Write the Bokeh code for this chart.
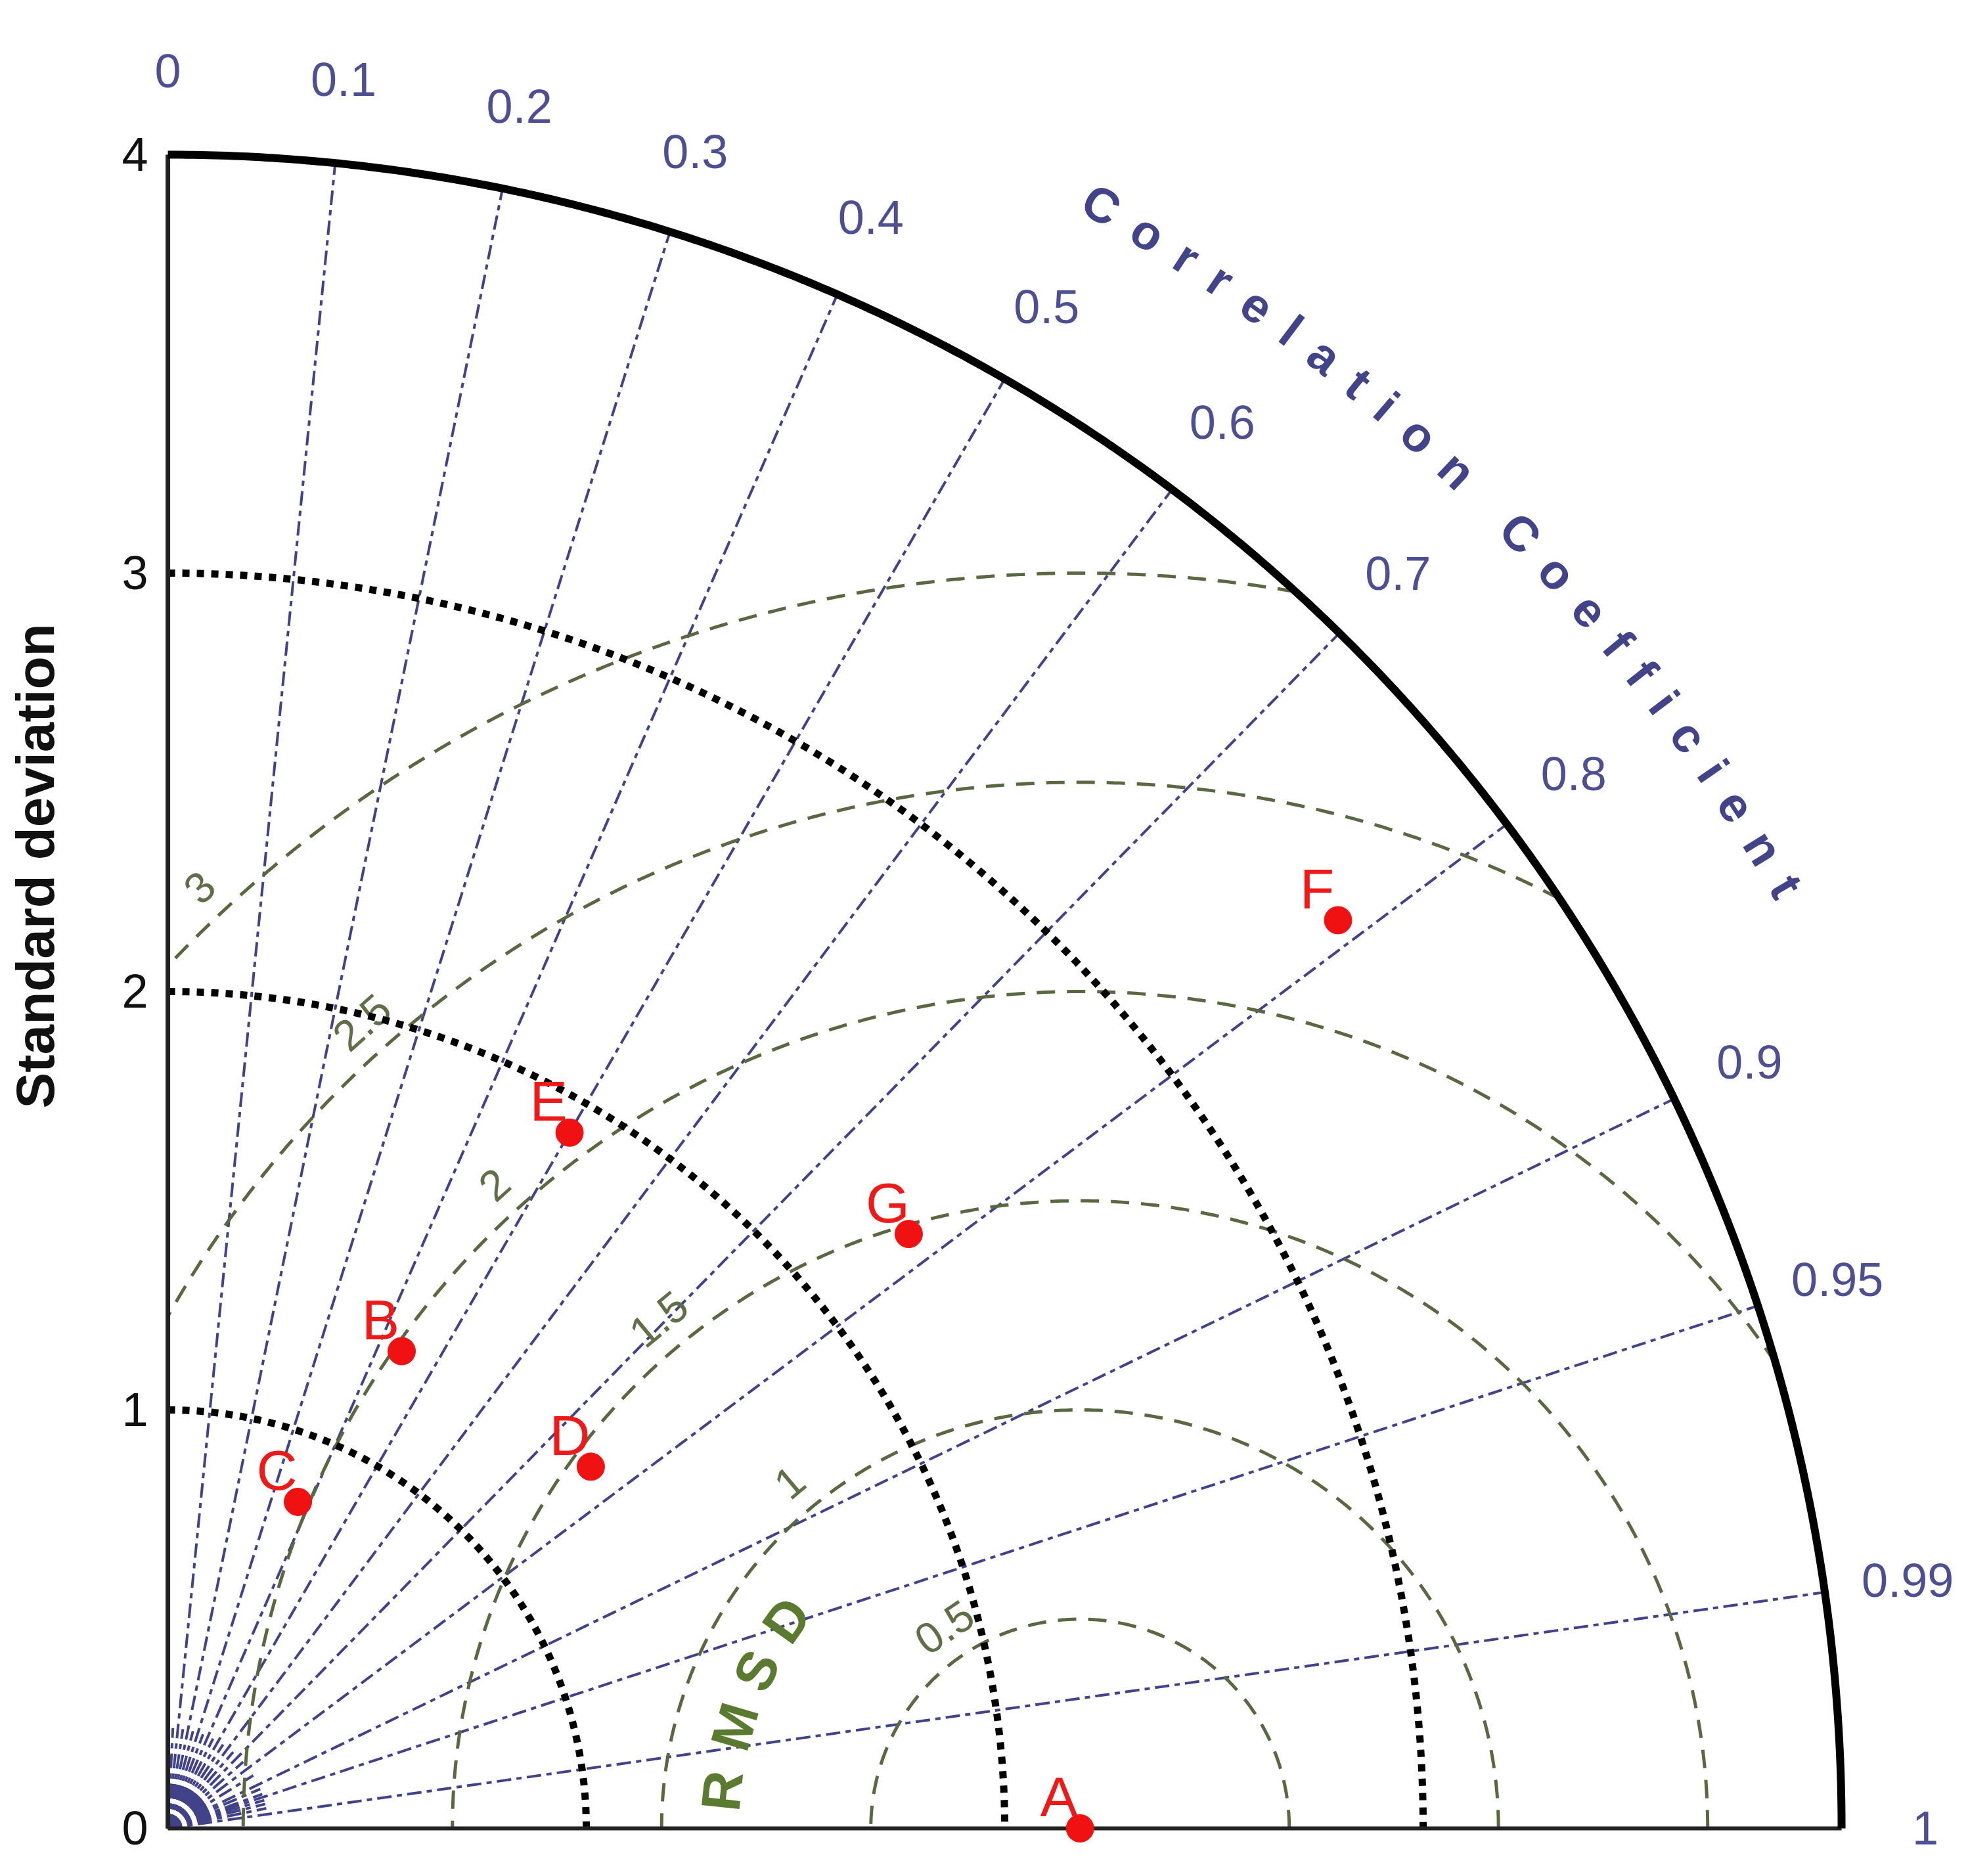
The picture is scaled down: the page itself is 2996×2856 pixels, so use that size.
import numpy as np
from bokeh.plotting import figure
from bokeh.models import ColumnDataSource, Range1d
from bokeh.core.properties import value
from bokeh.embed import file_html
from bokeh.resources import INLINE

# ---------------- data ----------------
models = ["A", "B", "C", "D", "E", "F", "G"]
std_devs = [2.18, 1.27, 0.84, 1.33, 1.92, 3.54, 2.27]
correlations = [1.00, 0.44, 0.37, 0.76, 0.50, 0.79, 0.78]
ref_std = 2.18

std_ticks = [0, 1, 2, 3, 4]
std_tick_labels = ["0", "1", "2", "3", "4"]
std_grid = [1, 2, 3]
std_max = 4

corr_lines = [0.1, 0.2, 0.3, 0.4, 0.5, 0.6, 0.7, 0.8, 0.9, 0.95, 0.99]
corr_ticks = [0.0, 0.1, 0.2, 0.3, 0.4, 0.5, 0.6, 0.7, 0.8, 0.9, 0.95, 0.99, 1.0]
corr_tick_labels = ["0", "0.1", "0.2", "0.3", "0.4", "0.5", "0.6", "0.7",
                    "0.8", "0.9", "0.95", "0.99", "1"]
corr_minor = [0.05, 0.15, 0.25, 0.35, 0.45, 0.55, 0.65, 0.75, 0.85,
              0.92, 0.94, 0.96, 0.97, 0.98]
corr_fine = [0.02, 0.04, 0.06, 0.08, 0.12, 0.14, 0.16, 0.18, 0.22, 0.24,
             0.26, 0.28, 0.32, 0.34, 0.36, 0.38, 0.42, 0.44, 0.46, 0.48,
             0.52, 0.54, 0.56, 0.58, 0.62, 0.64, 0.66, 0.68, 0.72, 0.74,
             0.76, 0.78, 0.82, 0.84, 0.86, 0.88]

rmsd_levels = [0.5, 1.0, 1.5, 2.0, 2.5, 3.0]
rmsd_labels = ["0.5", "1", "1.5", "2", "2.5", "3"]
rmsd_label_angles = [124, 130, 129.6, 132.3, 131.7, 133.1]   # degrees around ref point

corr_title = "Correlation Coefficient"
rmsd_title = "RMSD"
y_title = "Standard deviation"

# ---------------- styles ----------------
NAVY = "#42428a"
NAVY_TXT = "#4e4e92"
OLIVE = "#5a6842"
OLIVE_TXT = "#5f7048"
RMSD_GREEN = "#5a7a30"
RED = "#f01212"
FONT = "Liberation Sans"

p = figure(width=2980, height=2840,
           x_range=Range1d(-0.4004, 4.2778), y_range=Range1d(-0.0895, 4.3689),
           output_backend="svg", toolbar_location=None,
           x_axis_location=None, y_axis_location=None,
           min_border=0, outline_line_color=None)
p.grid.visible = False
p.background_fill_color = "white"

CDASH = "22 8 8 8"

# ---- correlation fan near origin (minor) ----
xs, ys = [], []
for c in corr_minor:
    t = np.arccos(c)
    xs.append([0, 0.24 * np.cos(t)]); ys.append([0, 0.24 * np.sin(t)])
for c in corr_fine:
    t = np.arccos(c)
    xs.append([0, 0.11 * np.cos(t)]); ys.append([0, 0.11 * np.sin(t)])
p.multi_line(xs, ys, line_color=NAVY, line_width=4, line_dash=CDASH)

# ---- correlation lines ----
xs, ys = [], []
for c in corr_lines:
    t = np.arccos(c)
    xs.append([0, std_max * np.cos(t)]); ys.append([0, std_max * np.sin(t)])
p.multi_line(xs, ys, line_color=NAVY, line_width=4, line_dash=CDASH)

# ---- RMSD arcs ----
xs, ys = [], []
for v in rmsd_levels:
    xo = (std_max**2 - v**2 + ref_std**2) / (2 * ref_std)
    phi0 = 0.0 if xo >= ref_std + v else np.arccos((xo - ref_std) / v)
    phi1 = np.pi if ref_std - v >= 0 else np.arccos(-ref_std / v)
    ph = np.linspace(phi0, phi1, 400)
    xs.append(list(ref_std + v * np.cos(ph))); ys.append(list(v * np.sin(ph)))
p.multi_line(xs, ys, line_color=OLIVE, line_width=5, line_dash="28 18")

# ---- RMSD labels ----
lx, ly, la = [], [], []
for v, a in zip(rmsd_levels, rmsd_label_angles):
    r = v + 0.08
    t = np.radians(a)
    lx.append(ref_std + r * np.cos(t)); ly.append(r * np.sin(t)); la.append(t - np.pi / 2)
p.text(lx, ly, text=rmsd_labels, angle=la, text_align="center", text_baseline="middle",
       text_font=value(FONT), text_font_size="66px", text_color=OLIVE_TXT)

# RMSD title along an arc around the reference point
rt = np.radians(np.array([174.0, 163.6, 154.0, 144.6]))
p.text(list(ref_std + 0.86 * np.cos(rt)), list(0.86 * np.sin(rt)), text=list(rmsd_title),
       angle=list(rt - np.pi / 2), text_align="center", text_baseline="middle",
       text_font=value(FONT), text_font_style="bold", text_font_size="84px",
       text_color=RMSD_GREEN)

# ---- std dotted arcs ----
xs, ys = [], []
th = np.linspace(np.pi / 2, 0, 400)
for r in std_grid:
    xs.append(list(r * np.cos(th))); ys.append(list(r * np.sin(th)))
p.multi_line(xs, ys, line_color="black", line_width=11, line_dash="11 11")

# ---- axes ----
p.line([0, 0], [0, std_max], line_color="#222222", line_width=7)
p.line([0, std_max], [0, 0], line_color="#222222", line_width=6)
p.line(list(std_max * np.cos(th)), list(std_max * np.sin(th)), line_color="black", line_width=12)

p.text([0] * len(std_ticks), std_ticks, text=std_tick_labels, x_offset=-30,
       text_align="right", text_baseline="middle", text_font=value(FONT),
       text_font_size="72px", text_color="#111111")
p.text([-0.317], [2.30], text=[y_title], angle=np.pi / 2, text_align="center",
       text_baseline="middle", text_font=value(FONT), text_font_style="bold",
       text_font_size="82px", text_color="#111111")

# ---- correlation tick labels ----
ct = np.arccos(np.array(corr_ticks))
p.text(list(4.2 * np.cos(ct)), list(4.2 * np.sin(ct)), text=corr_tick_labels,
       text_align="center", text_baseline="middle", text_font=value(FONT),
       text_font_size="72px", text_color=NAVY_TXT)

# ---- curved title "Correlation Coefficient" ----
adv = {"C": .722, "o": .611, "r": .389, "e": .556, "l": .278, "a": .556, "t": .333,
       "i": .278, "n": .611, " ": .278, "f": .333, "c": .556}
fs = 74
R = 4.475
ppu = 637.0
start, end = np.radians(60.1), np.radians(30.2)
chars = list(corr_title)
base = sum((adv[chars[i]] + adv[chars[i + 1]]) / 2 * fs for i in range(len(chars) - 1))
spacing = ((start - end) * R * ppu - base) / (len(chars) - 1)
s = 0.0
tx, ty, ta, tt = [], [], [], []
for i, ch in enumerate(chars):
    if i > 0:
        s += (adv[chars[i - 1]] + adv[ch]) / 2 * fs + spacing
    ang = start - s / (R * ppu)
    if ch != " ":
        tx.append(R * np.cos(ang)); ty.append(R * np.sin(ang)); ta.append(ang - np.pi / 2); tt.append(ch)
p.text(tx, ty, text=tt, angle=ta, text_align="center", text_baseline="middle",
       text_font=value(FONT), text_font_style="bold", text_font_size=f"{fs}px",
       text_color="#43438a")

# ---- model points ----
cr = np.array(correlations)
sd = np.array(std_devs)
src = ColumnDataSource(dict(x=sd * cr, y=sd * np.sqrt(1 - cr**2), label=models))
p.scatter("x", "y", source=src, size=42, fill_color=RED, line_color=RED)
p.text("x", "y", text="label", source=src, x_offset=-32, y_offset=-48,
       text_align="center", text_baseline="middle", text_font=value(FONT),
       text_font_size="86px", text_color="#ee1a1a")

open("out.html", "w").write(file_html(p, INLINE))
